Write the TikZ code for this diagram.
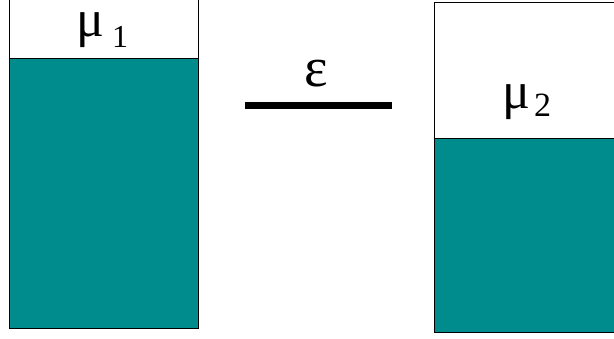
\documentclass[tikz,border=0pt]{standalone}
\usepackage{fontspec}
\setmainfont{Liberation Serif}
\definecolor{tealfill}{RGB}{0,140,140}
\tikzset{
  emptypart/.style={draw=black, line width=0.8pt, fill=white},
  fullpart/.style={draw=black, line width=0.8pt, fill=tealfill},
  biglabel/.style={inner sep=0pt, anchor=base west, font=\fontsize{52}{56}\selectfont},
}
\begin{document}
\begin{tikzpicture}[x=1pt,y=-1pt]
\useasboundingbox (0,0) rectangle (614,339);
\begin{scope}
\clip (0,0) rectangle (614,339);
% left container
\path[emptypart] (9,-3) rectangle (198,58);
\path[fullpart] (9,58) rectangle (198,328);
% right container
\path[emptypart] (434,2) rectangle (620,138);
\path[fullpart] (434,138) rectangle (620,332);
\end{scope}
\node[biglabel] (mu1) at (76,37) {μ\hspace{8pt}\raisebox{-11pt}{\fontsize{32}{34}\selectfont 1}};
\node[biglabel] (mu2) at (502,109) {μ\hspace{4pt}\raisebox{-8pt}{\fontsize{34}{36}\selectfont 2}};
\coordinate (la) at (245,106);
\coordinate (lb) at (392,106);
\draw[line width=7pt] (la) -- (lb);
\node[inner sep=0pt, anchor=base, font=\fontsize{56}{60}\selectfont] (eps) at (316,87) {ε};
\end{tikzpicture}
\end{document}
